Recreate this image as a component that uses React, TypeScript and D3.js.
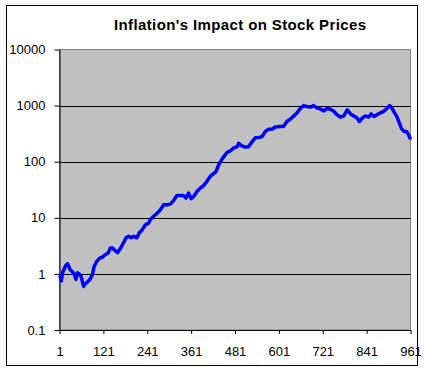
import React, { useEffect, useRef } from 'react';
import * as d3 from 'd3';

// month index (1..961)
const months: number[] = [
  1, 3, 6, 9, 17, 23, 30, 37, 42, 46, 50, 55, 60, 67, 71, 78, 85, 91, 96, 103,
  112, 119, 126, 134, 140, 146, 153, 160, 167, 176, 183, 190, 197, 204, 213, 219, 227, 236, 245, 249,
  258, 268, 277, 286, 295, 304, 313, 322, 331, 340, 347, 354, 361, 368, 377, 386, 395, 404, 413, 423,
  429, 436, 444, 450, 459, 468, 477, 487, 491, 500, 509, 518, 528, 537, 546, 555, 564, 573, 582, 591,
  605, 614, 623, 632, 642, 651, 660, 669, 678, 687, 696, 706, 715, 724, 733, 742, 751, 760, 769, 778,
  788, 797, 806, 815, 821, 829, 838, 847, 853, 861, 870, 879, 888, 897, 904, 909, 915, 923, 929, 936,
  943, 950, 956, 961,
];

// price level at each month (log scale)
const prices: number[] = [
  0.85, 0.9, 0.75, 1.04, 1.37, 1.52, 1.19, 1.08, 0.97, 0.8, 1.05, 1.0, 0.9, 0.6, 0.66, 0.72, 0.81, 0.98, 1.37, 1.68,
  1.93, 2.0, 2.2, 2.35, 2.9, 2.9, 2.6, 2.4, 2.8, 3.56, 4.4, 4.67, 4.4, 4.67, 4.4, 5.35, 6.1, 7.5, 8.1, 9.2,
  10.5, 12.1, 13.9, 17.1, 17.1, 17.5, 20.2, 25, 25, 25, 22.5, 27.6, 21.9, 24, 29.5, 33.8, 37.6, 44.4, 54.6, 62,
  66.5, 87, 107, 122, 146, 156, 174, 185, 213, 192, 182, 185, 228, 268, 270, 280, 347, 380, 380, 415,
  425, 430, 520, 570, 655, 745, 900, 1000, 960, 940, 1000, 900, 870, 800, 900, 860, 790, 690, 625, 650,
  840, 710, 650, 600, 520, 600, 650, 625, 710, 640, 690, 745, 790, 900, 1000, 940, 790, 650, 520, 395,
  347, 347, 300, 250,
];

const yTicks = [0.1, 1, 10, 100, 1000, 10000];
const xTicks = [1, 121, 241, 361, 481, 601, 721, 841, 961];
const title = "Inflation's Impact on Stock Prices";

const App: React.FC = () => {
  const svgRef = useRef<SVGSVGElement | null>(null);

  useEffect(() => {
    if (!svgRef.current) return;
    const svg = d3.select(svgRef.current);
    svg.selectAll('*').remove();

    const width = 424;
    const height = 371;
    const plot = { left: 59.5, right: 410.5, top: 49.5, bottom: 330 };
    const font = 'Liberation Sans, Arial, sans-serif';

    const x = d3.scaleLinear().domain([1, 961]).range([plot.left, plot.right]);
    const y = d3.scaleLog().domain([0.1, 10000]).range([plot.bottom, plot.top]);

    svg.attr('width', width).attr('height', height);

    svg.append('rect')
      .attr('x', 0).attr('y', 0).attr('width', width).attr('height', height)
      .attr('fill', '#fff');

    // outer chart border
    svg.append('rect')
      .attr('x', 6.5).attr('y', 5.5).attr('width', 411).attr('height', 360)
      .attr('fill', 'none').attr('stroke', '#000');

    svg.append('text')
      .attr('x', 114).attr('y', 30)
      .attr('font-family', font).attr('font-size', 15).attr('font-weight', 'bold')
      .attr('textLength', 252).attr('lengthAdjust', 'spacing')
      .text(title);

    // plot area
    svg.append('rect')
      .attr('x', plot.left).attr('y', plot.top)
      .attr('width', plot.right - plot.left).attr('height', plot.bottom - plot.top)
      .attr('fill', '#C0C0C0').attr('stroke', '#808080');

    // gridlines
    svg.append('g')
      .selectAll('line')
      .data(yTicks.slice(1, -1))
      .enter()
      .append('line')
      .attr('x1', plot.left).attr('x2', plot.right)
      .attr('y1', (d) => Math.round(y(d)) + 0.5).attr('y2', (d) => Math.round(y(d)) + 0.5)
      .attr('stroke', '#000');

    // y axis
    const yAxis = svg.append('g')
      .attr('transform', `translate(${plot.left},0)`)
      .call(d3.axisLeft(y).tickValues(yTicks).tickSize(5).tickSizeOuter(0)
        .tickFormat((d) => String(d)));
    yAxis.select('.domain').attr('stroke', '#000');
    yAxis.selectAll('.tick line').attr('stroke', '#000');
    yAxis.selectAll('.tick text')
      .attr('x', -14)
      .attr('font-family', font).attr('font-size', 13).attr('fill', '#000');

    // x axis
    const xAxis = svg.append('g')
      .attr('transform', `translate(0,${plot.bottom})`)
      .call(d3.axisBottom(x).tickValues(xTicks).tickSize(4).tickSizeOuter(0)
        .tickFormat((d) => String(d)));
    xAxis.select('.domain').attr('stroke', '#000');
    xAxis.selectAll('.tick line').attr('stroke', '#000');
    xAxis.selectAll('.tick text')
      .attr('y', 17)
      .attr('font-family', font).attr('font-size', 13).attr('fill', '#000');

    const line = d3.line<number>()
      .x((_, i) => x(months[i]))
      .y((d) => y(d));

    svg.append('path')
      .datum(prices)
      .attr('fill', 'none')
      .attr('stroke', '#0000FF')
      .attr('stroke-width', 3.5)
      .attr('stroke-linejoin', 'round')
      .attr('d', line);
  }, []);

  return <svg ref={svgRef} style={{ position: 'absolute', left: 0, top: 0 }}></svg>;
};

export default App;
